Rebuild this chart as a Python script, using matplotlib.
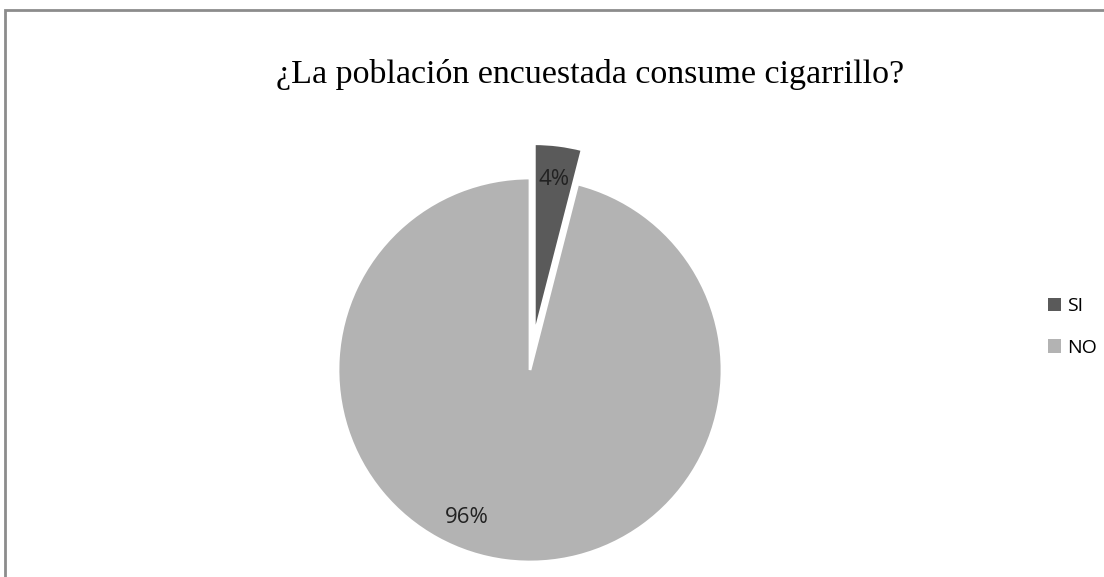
import matplotlib
matplotlib.use("Agg")
import matplotlib.pyplot as plt
from matplotlib.patches import Rectangle, Patch

title = "¿La población encuestada consume cigarrillo?"
labels = ["SI", "NO"]
values = [4, 96]
colors = ["#5a5a5a", "#b3b3b3"]

fig = plt.figure(figsize=(11.04, 5.77), dpi=100)
W, H = 1104, 577

# outer frame (chart area border, cut off at right and bottom)
fig.patches.append(Rectangle((5 / W, -0.1), 1.2, (H - 10) / H + 0.1,
                             transform=fig.transFigure, fill=False,
                             edgecolor="#8c8c8c", linewidth=2))

# pie axes: centre at (530, 370) px, radius 192 px
R = 192
cx, cy = 530, H - 370
span = 1.3
side = 2 * span * R
ax = fig.add_axes([(cx - side / 2) / W, (cy - side / 2) / H, side / W, side / H])

wedges, texts, autotexts = ax.pie(
    values, colors=colors, startangle=90, counterclock=False,
    explode=[0.18, 0], autopct="%1.0f%%", pctdistance=0.82,
    wedgeprops=dict(edgecolor="white", linewidth=2),
    textprops=dict(family="Open Sans", fontsize=16, color="#222222"))
autotexts[1].set_position((-0.33, -0.77))
ax.set_xlim(-span, span)
ax.set_ylim(-span, span)
ax.axis("off")

fig.text(590 / W, 1 - 75 / H, title, ha="center", va="center",
         family="Liberation Serif", fontsize=24.5)

handles = [Patch(facecolor=c, edgecolor="none") for c in colors]
fig.legend(handles, labels, loc="center left", bbox_to_anchor=(1030 / W, 1 - 327 / H),
           frameon=False, prop=dict(family="Open Sans", size=14),
           handlelength=0.7, handleheight=0.7, handletextpad=0.3, labelspacing=1.2)

fig.savefig("out.png", dpi=100)
